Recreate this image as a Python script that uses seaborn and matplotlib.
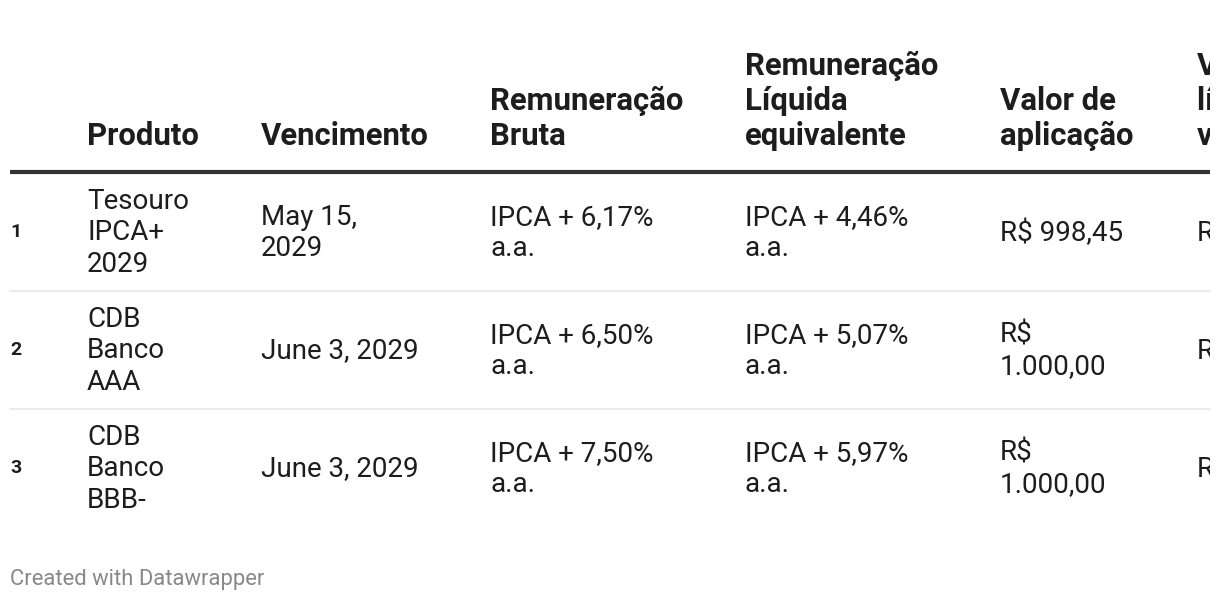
import matplotlib.pyplot as plt
import seaborn as sns

# table content
headers = [
    "Produto",
    "Vencimento",
    "Remuneração\nBruta",
    "Remuneração\nLíquida\nequivalente",
    "Valor de\naplicação",
    "Valor\nlíquido no\nvencimento",
]
produto = ["Tesouro\nIPCA+\n2029", "CDB\nBanco\nAAA", "CDB\nBanco\nBBB-"]
vencimento = ["May 15,\n2029", "June 3, 2029", "June 3, 2029"]
bruta = ["IPCA + 6,17%\na.a.", "IPCA + 6,50%\na.a.", "IPCA + 7,50%\na.a."]
liquida = ["IPCA + 4,46%\na.a.", "IPCA + 5,07%\na.a.", "IPCA + 5,97%\na.a."]
valor_aplicacao = ["R$ 998,45", "R$\n1.000,00", "R$\n1.000,00"]
valor_liquido = ["R$ 1.349,87", "R$ 1.367,22", "R$ 1.421,05"]
row_ids = ["1", "2", "3"]

sns.set_theme(style="white")
plt.rcParams['font.family'] = ['Roboto', 'DejaVu Sans']

fig = plt.figure(figsize=(12.2, 6.02), dpi=100)
ax = fig.add_axes([0, 0, 1, 1])
ax.set_xlim(0, 1220)
ax.set_ylim(602, 0)
ax.axis('off')

col_x = [87, 261, 490, 745, 1000, 1197]
row_y = [232, 350, 468]
# the table is wider than the image, last column gets cut at the edge
clip = plt.Rectangle((0, 0), 1210, 602, transform=ax.transData)

txt = '#1d1d1d'
for x, h in zip(col_x, headers):
    t = ax.text(x, 151, h, fontsize=22.4, fontweight='bold', color=txt,
                ha='left', va='bottom', linespacing=1.2)
    t.set_clip_on(True)
    t.set_clip_path(clip)

ax.plot([10, 1210], [172, 172], color='#333333', lw=3, solid_capstyle='butt')
for y in [291, 409]:
    ax.plot([10, 1210], [y, y], color='#e6e6e6', lw=1.2)

columns = [produto, vencimento, bruta, liquida, valor_aplicacao, valor_liquido]
for i, y in enumerate(row_y):
    ax.text(10, y, row_ids[i], fontsize=14, fontweight='bold', color=txt,
            ha='left', va='center')
    for x, col in zip(col_x, columns):
        t = ax.text(x, y + 1, col[i], fontsize=20, color=txt, ha='left',
                    va='center', linespacing=1.22)
        t.set_clip_on(True)
        t.set_clip_path(clip)

ax.text(10, 579, "Created with Datawrapper", fontsize=15.8, color='#888888',
        ha='left', va='center')

fig.savefig("out.png", dpi=100)
